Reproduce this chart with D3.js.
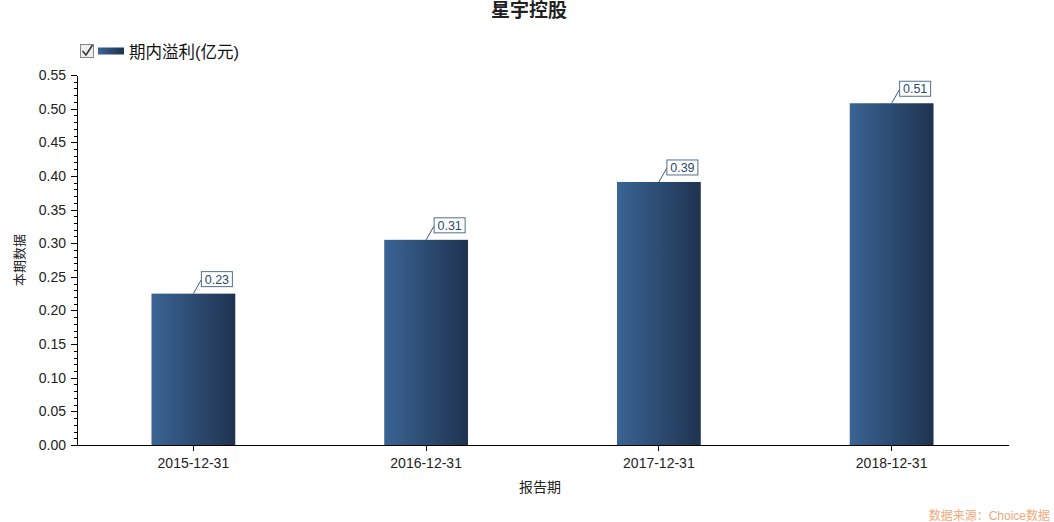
<!DOCTYPE html>
<html>
<head>
    <meta charset="utf-8">
    <title>星宇控股</title>
    <script src="https://cdn.jsdelivr.net/npm/d3@7/dist/d3.min.js"></script>
    <style>
        body { margin: 0; background: #fff; font-family: Arial, "Liberation Sans", "Noto Sans CJK SC", sans-serif; }
        .axis text { font-size: 14px; fill: #222; font-family: Arial, "Liberation Sans", sans-serif; }
        .axis path, .axis line { stroke: #000; shape-rendering: crispEdges; }
    </style>
</head>
<body>
    <svg width="1054" height="522"></svg>
    <script>
        // chart data
        const title = "星宇控股";
        const seriesName = "期内溢利(亿元)";
        const categories = ["2015-12-31", "2016-12-31", "2017-12-31", "2018-12-31"];
        const values = [0.225, 0.305, 0.391, 0.508];
        const valueLabels = ["0.23", "0.31", "0.39", "0.51"];
        const yTicks = [0, 0.05, 0.10, 0.15, 0.20, 0.25, 0.30, 0.35, 0.40, 0.45, 0.50, 0.55];

        const svg = d3.select("svg");
        const margin = { top: 75, right: 46, bottom: 77, left: 77 },
            width = +svg.attr("width") - margin.left - margin.right,
            height = +svg.attr("height") - margin.top - margin.bottom;

        // gradient for bars and legend swatch
        const defs = svg.append("defs");
        const grad = defs.append("linearGradient")
            .attr("id", "barGrad")
            .attr("x1", "0%").attr("x2", "100%").attr("y1", "0%").attr("y2", "0%");
        grad.append("stop").attr("offset", "0%").attr("stop-color", "#3a6494");
        grad.append("stop").attr("offset", "100%").attr("stop-color", "#1f3350");

        const g = svg.append("g").attr("transform", "translate(" + margin.left + "," + margin.top + ")");

        const x = d3.scaleBand()
            .domain(categories)
            .range([0, width]);

        const y = d3.scaleLinear()
            .domain([0, 0.55])
            .range([height, 0]);

        // minor ticks every 0.01
        g.append("g")
            .attr("class", "axis")
            .call(d3.axisLeft(y).tickValues(d3.range(0, 0.5501, 0.01)).tickSize(3).tickFormat(""))
            .select(".domain").remove();

        g.append("g")
            .attr("class", "axis y-axis")
            .call(d3.axisLeft(y).tickValues(yTicks).tickSize(6).tickSizeOuter(0).tickPadding(5).tickFormat(d3.format(".2f")));

        g.append("g")
            .attr("class", "axis x-axis")
            .attr("transform", "translate(0," + height + ")")
            .call(d3.axisBottom(x).tickSize(6).tickSizeOuter(0).tickPadding(5))
            .selectAll("text").attr("dy", "0.85em");

        const barW = x.bandwidth() * 0.36;

        g.selectAll(".bar")
            .data(values)
            .enter().append("rect")
            .attr("class", "bar")
            .attr("x", (d, i) => x(categories[i]) + x.bandwidth() / 2 - barW / 2)
            .attr("y", d => y(d))
            .attr("width", barW)
            .attr("height", d => height - y(d))
            .attr("fill", "url(#barGrad)");

        // value labels with leader lines
        const lab = g.selectAll(".vlabel")
            .data(values)
            .enter().append("g")
            .attr("class", "vlabel")
            .attr("transform", (d, i) => "translate(" + (x(categories[i]) + x.bandwidth() / 2) + "," + y(d) + ")");

        lab.append("line")
            .attr("x1", 0).attr("y1", 0)
            .attr("x2", 8).attr("y2", -14)
            .attr("stroke", "#3c5a7a").attr("stroke-width", 1);

        lab.append("rect")
            .attr("x", 8).attr("y", -22)
            .attr("width", 31).attr("height", 15)
            .attr("fill", "#fff")
            .attr("stroke", "#4f6f8f").attr("stroke-width", 1);

        lab.append("text")
            .attr("x", 23.5).attr("y", -10)
            .attr("text-anchor", "middle")
            .attr("font-size", "12.5px")
            .attr("fill", "#2c4a6a")
            .text((d, i) => valueLabels[i]);

        // title
        svg.append("text")
            .attr("x", 529).attr("y", 17)
            .attr("text-anchor", "middle")
            .attr("font-size", "19px")
            .attr("font-weight", "bold")
            .attr("fill", "#222")
            .text(title);

        // legend
        const lg = svg.append("g").attr("transform", "translate(80,44)");
        lg.append("rect")
            .attr("x", 0.5).attr("y", 0.5).attr("width", 13).attr("height", 13)
            .attr("fill", "#eee").attr("stroke", "#888");
        lg.append("path")
            .attr("d", "M2.5,7 L6,11 L12.5,1")
            .attr("fill", "none").attr("stroke", "#333").attr("stroke-width", 1.5);
        lg.append("rect")
            .attr("x", 18).attr("y", 3.5).attr("width", 26).attr("height", 7)
            .attr("fill", "url(#barGrad)");
        lg.append("text")
            .attr("x", 49).attr("y", 13.5)
            .attr("font-size", "16.5px")
            .attr("fill", "#111")
            .text(seriesName);

        // axis titles
        svg.append("text")
            .attr("transform", "translate(24,260) rotate(-90)")
            .attr("text-anchor", "middle")
            .attr("font-size", "13px")
            .attr("font-family", "'Noto Sans CJK SC', sans-serif")
            .attr("fill", "#222")
            .text("本期数据");

        svg.append("text")
            .attr("x", 540).attr("y", 492)
            .attr("text-anchor", "middle")
            .attr("font-size", "14px")
            .attr("font-family", "'Noto Sans CJK SC', sans-serif")
            .attr("fill", "#222")
            .text("报告期");

        // source note
        svg.append("text")
            .attr("x", 1050).attr("y", 520)
            .attr("text-anchor", "end")
            .attr("font-size", "12px")
            .attr("fill", "#f0a878")
            .text("数据来源：Choice数据");
    </script>
</body>
</html>
